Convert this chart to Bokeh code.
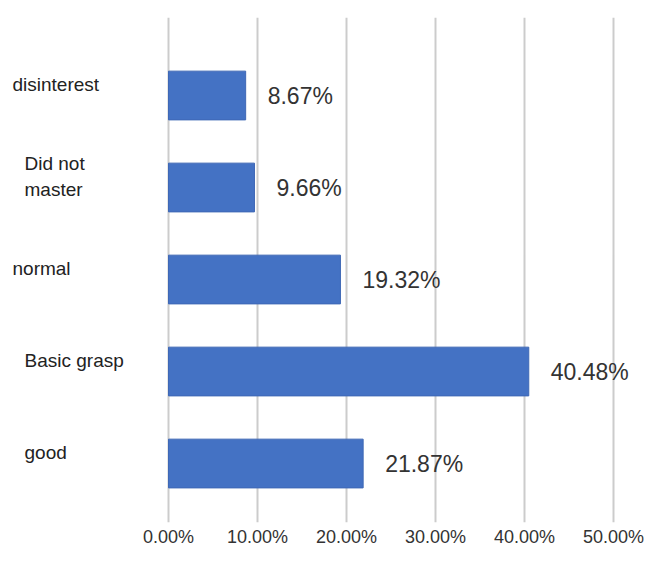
from bokeh.plotting import figure
from bokeh.models import ColumnDataSource, FixedTicker, Range1d
from bokeh.core.properties import value
from bokeh.embed import file_html
from bokeh.resources import INLINE

# ---- data ----
categories = ["disinterest", "Did not\nmaster", "normal", "Basic grasp", "good"]
percent_values = [8.67, 9.66, 19.32, 40.48, 21.87]
value_labels = ["8.67%", "9.66%", "19.32%", "40.48%", "21.87%"]
tick_values = [0, 10, 20, 30, 40, 50]
tick_labels = ["0.00%", "10.00%", "20.00%", "30.00%", "40.00%", "50.00%"]

# ---- style (label placement, not data) ----
label_dx = [12, 24, 12, 24, 24]

positions = [i for i, _ in enumerate(categories)]

W, H = 648, 549
px_per_unit = 8.9
x_start = -168 / px_per_unit
x_end = x_start + W / px_per_unit

p = figure(width=W, height=H, output_backend="svg", toolbar_location=None,
           x_range=Range1d(x_start, x_end),
           y_range=Range1d(4.641, -0.848),
           min_border_left=0, min_border_right=0, min_border_top=17,
           min_border_bottom=27)
p.outline_line_color = None
p.background_fill_color = "white"
p.border_fill_color = "white"

src = ColumnDataSource(dict(y=positions, v=percent_values, lab=value_labels,
                            cat=categories, cx=[x_start] * len(categories),
                            dx=label_dx))

p.hbar(y="y", left=0, right="v", height=0.53, source=src,
       fill_color="#4472c4", line_color="#3f68b5", line_width=1)

p.text(x="v", y="y", text="lab", source=src, x_offset=22, y_offset=0,
       text_font=value("Liberation Sans"), text_font_size="23px",
       text_color="#333333", text_baseline="middle", text_align="left")

p.text(x="cx", y="y", text="cat", source=src, x_offset="dx", y_offset=-11,
       text_font=value("Liberation Sans"), text_font_size="19px",
       text_color="#222222", text_baseline="middle", text_align="left",
       text_line_height=1.25)

p.yaxis.visible = False
p.ygrid.grid_line_color = None

p.xaxis.ticker = FixedTicker(ticks=tick_values)
p.xaxis.major_label_overrides = {t: l for t, l in zip(tick_values, tick_labels)}
p.xaxis.axis_line_color = None
p.xaxis.major_tick_line_color = None
p.xaxis.minor_tick_line_color = None
p.xaxis.major_tick_in = 0
p.xaxis.major_tick_out = 0
p.xaxis.major_label_standoff = 4
p.xaxis.major_label_text_font = "Liberation Sans"
p.xaxis.major_label_text_font_size = "18px"
p.xaxis.major_label_text_color = "#333333"

p.xgrid.ticker = FixedTicker(ticks=tick_values)
p.xgrid.grid_line_color = "#cccccc"
p.xgrid.grid_line_width = 2

open("out.html", "w").write(file_html(p, INLINE))
